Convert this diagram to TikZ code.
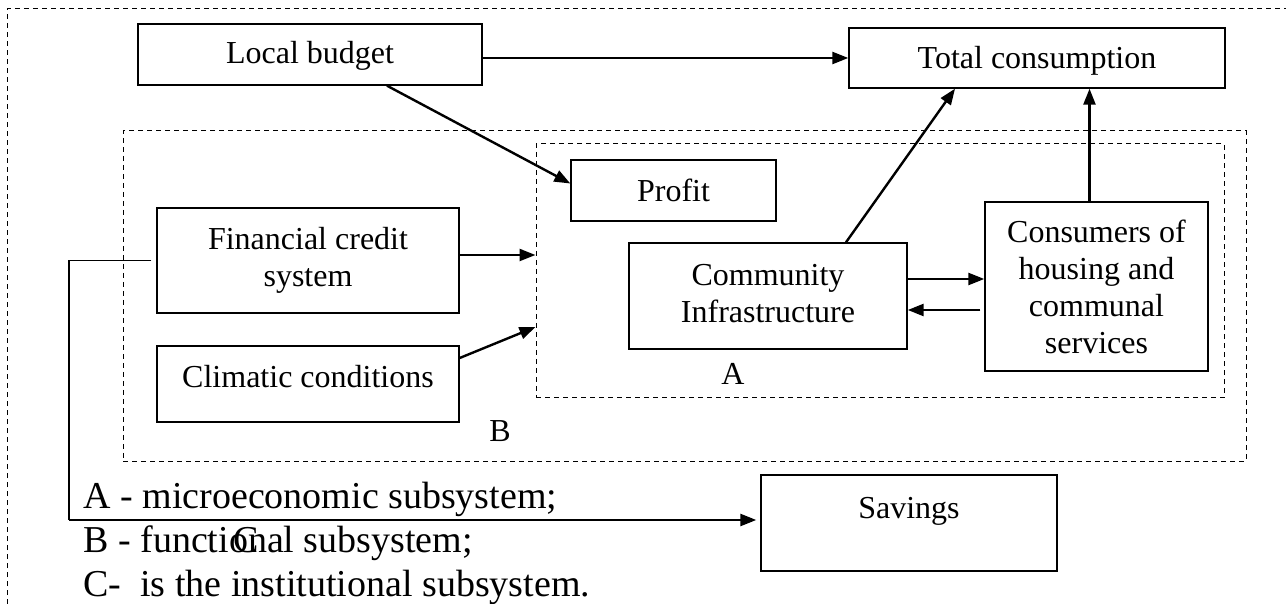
\documentclass[tikz,border=0pt]{standalone}
\usepackage{fontspec}
\setmainfont{Liberation Serif}
\usetikzlibrary{arrows.meta,calc}
\begin{document}
\begin{tikzpicture}[x=0.5pt, y=-0.5pt,
    box/.style={draw, line width=0.7pt, align=center, inner sep=0pt, font=\fontsize{16}{18.5}\selectfont},
    area/.style={draw, dash pattern=on 2.5pt off 2pt, line width=0.5pt, inner sep=0pt},
    arr/.style={-{Triangle[length=8pt,width=6pt]}, line width=1.2pt},
    lbl/.style={font=\fontsize{16}{18}\selectfont, inner sep=0pt},
    leg/.style={font=\fontsize{19}{21.5}\selectfont, anchor=base west, inner sep=0pt}]
    \useasboundingbox (0,0) rectangle (1286,604);
    % outer frame, only top and left side are seen
    \draw[area] (7,604) -- (7,9) -- (1286,9);
    % subsystems B and A
    \node (areaB) [area, minimum width=561.5pt, minimum height=165pt] at (684.5,296) {};
    \node (areaA) [area, minimum width=344pt, minimum height=127pt] at (880,271) {};
    \node (labA) [lbl] at (733,374) {A};
    \node (labB) [lbl] at (500,431) {B};
    % boxes
    \node (budget) [box, minimum width=172pt, minimum height=30.5pt, text depth=2pt] at (310,54.5) {Local budget};
    \node (total) [box, minimum width=188pt, minimum height=30pt, text depth=1pt] at (1037,58) {Total consumption};
    \node (profit) [box, minimum width=102.5pt, minimum height=30.5pt] at (673.5,190.5) {Profit};
    \node (credit) [box, minimum width=151pt, minimum height=52.5pt, text depth=4pt] at (308,260.5) {Financial credit\\system};
    \node (climate) [box, minimum width=151pt, minimum height=38pt, text depth=8pt] at (308,384) {Climatic conditions};
    \node (infra) [box, minimum width=139pt, minimum height=53pt, text depth=3pt] at (768,296) {Community\\Infrastructure};
    \node (consumers) [box, minimum width=111.5pt, minimum height=84.5pt] at (1096.5,286.5) {Consumers of\\housing and\\communal\\services};
    \node (savings) [box, minimum width=148pt, minimum height=48pt, text height=11pt, text depth=16pt] at (909,523) {Savings};
    % connections
    \draw[arr] (budget.east |- total.west) -- (total.west);
    \draw[arr] ($(budget.south)+(77,0)$) -- ($(profit.west)+(0,-7)$);
    \draw[arr] ($(credit.east)+(0,-5.5)$) -- ($(credit.east -| areaA.west)+(0,-5.5)$);
    \draw[arr] ($(climate.east)+(0,-26)$) -- ($(areaA.west)+(0,56)$);
    \draw[arr] ($(infra.east)+(0,-17)$) -- ($(infra.east -| consumers.west)+(0,-17)$);
    \draw[arr] ($(consumers.west)+(-4,23.5)$) -- ($(infra.east)+(0,14)$);
    \draw[arr] ($(infra.north)+(78,0)$) -- ($(total.south)+(-82,0)$);
    \draw[arr] ($(consumers.north)+(-7,0)$) -- ($(consumers.north |- total.south)+(-7,0)$);
    % institutional link C
    \draw[line width=0.6pt] ($(credit.west)+(-5,0)$) -- (69,260.5) -- (69,520);
    \draw[arr] (69,520) -- ($(savings.west)+(-4,-3)$);
    % legend
    \node (legA) [leg] at (83,509) {A - microeconomic subsystem;};
    \node (legB) [leg] at (83,552) {B - functional subsystem;};
    \node (legC) [leg] at (83,596) {C-\ \ is the institutional subsystem.};
    \node (labC) [leg] at (233,552) {C};
\end{tikzpicture}
\end{document}
